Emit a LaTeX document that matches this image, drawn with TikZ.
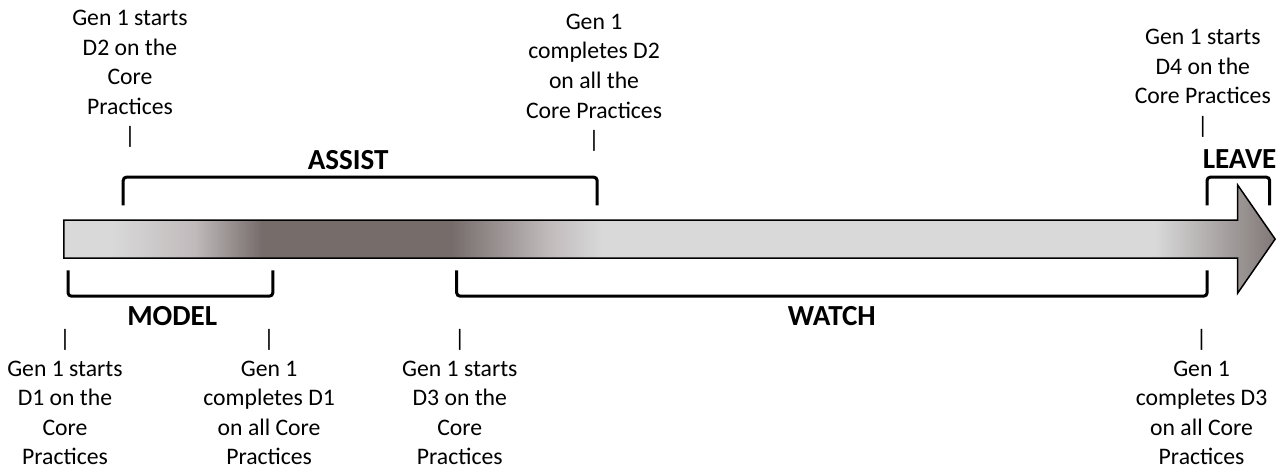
\documentclass[tikz,border=0pt]{standalone}
\usepackage{fontspec}
\setmainfont{Carlito}
\definecolor{lightbar}{RGB}{217,217,217}
\definecolor{midbar}{RGB}{192,186,187}
\definecolor{darkbar}{RGB}{118,109,107}
\definecolor{tipbar}{RGB}{128,120,118}

\begin{document}
\begin{tikzpicture}[
    txt/.style={align=center, font=\fontsize{11}{13.7}\selectfont, inner sep=0pt},
    phase/.style={font=\fontsize{13.5}{15}\selectfont\bfseries, inner sep=0pt},
    brak/.style={line width=1.4pt, rounded corners=1.5pt}
]

    \useasboundingbox (0,0) rectangle (21.01,7.67);

    % the big arrow
    \begin{scope}
        \clip (1.04,3.46) -- (1.04,4.08) -- (20.19,4.08) -- (20.19,4.65) -- (20.80,3.77) -- (20.19,2.89) -- (20.19,3.46) -- cycle;
        \fill[lightbar] (1.0,2.8) rectangle (20.9,4.7);
        \shade[left color=lightbar, right color=midbar] (1.83,2.8) rectangle (3.18,4.7);
        \shade[left color=midbar, right color=darkbar] (3.18,2.8) rectangle (4.27,4.7);
        \fill[darkbar] (4.27,2.8) rectangle (7.37,4.7);
        \shade[left color=darkbar, right color=midbar] (7.37,2.8) rectangle (8.94,4.7);
        \shade[left color=midbar, right color=lightbar] (8.94,2.8) rectangle (9.82,4.7);
        \shade[left color=lightbar, right color=tipbar] (18.84,2.8) rectangle (20.80,4.7);
    \end{scope}
    \draw[line width=0.7pt] (1.04,3.46) -- (1.04,4.08) -- (20.19,4.08) -- (20.19,4.65) -- (20.80,3.77) -- (20.19,2.89) -- (20.19,3.46) -- cycle;

    % brackets above
    \draw[brak] (2.01,4.32) -- (2.01,4.78) -- (9.74,4.78) -- (9.74,4.32);
    \draw[brak] (19.69,4.32) -- (19.69,4.78) -- (20.71,4.78) -- (20.71,4.32);
    \node[phase] (AS) at (5.68,5.06) {ASSIST};
    \node[phase] (LV) at (20.22,5.07) {LEAVE};

    % brackets below
    \draw[brak] (1.11,3.26) -- (1.11,2.84) -- (4.45,2.84) -- (4.45,3.26);
    \draw[brak] (7.45,3.26) -- (7.45,2.84) -- (19.69,2.84) -- (19.69,3.26);
    \node[phase] (MO) at (2.81,2.51) {MODEL};
    \node[phase] (WA) at (13.57,2.51) {WATCH};

    % milestones above
    \node[txt] (S2) at (2.12,6.385) {Gen 1 starts\\D2 on the\\Core\\Practices\\|};
    \node[txt] (C2) at (9.69,6.32) {Gen 1\\completes D2\\on all the\\Core Practices\\|};
    \node[txt] (S4) at (19.62,6.31) {Gen 1 starts\\D4 on the\\Core Practices\\|};

    % milestones below
    \node[txt] (S1) at (1.06,1.19) {|\\Gen 1 starts\\D1 on the\\Core\\Practices};
    \node[txt] (C1) at (4.39,1.19) {|\\Gen 1\\completes D1\\on all Core\\Practices};
    \node[txt] (S3) at (7.50,1.19) {|\\Gen 1 starts\\D3 on the\\Core\\Practices};
    \node[txt] (C3) at (19.60,1.19) {|\\Gen 1\\completes D3\\on all Core\\Practices};

\end{tikzpicture}
\end{document}
